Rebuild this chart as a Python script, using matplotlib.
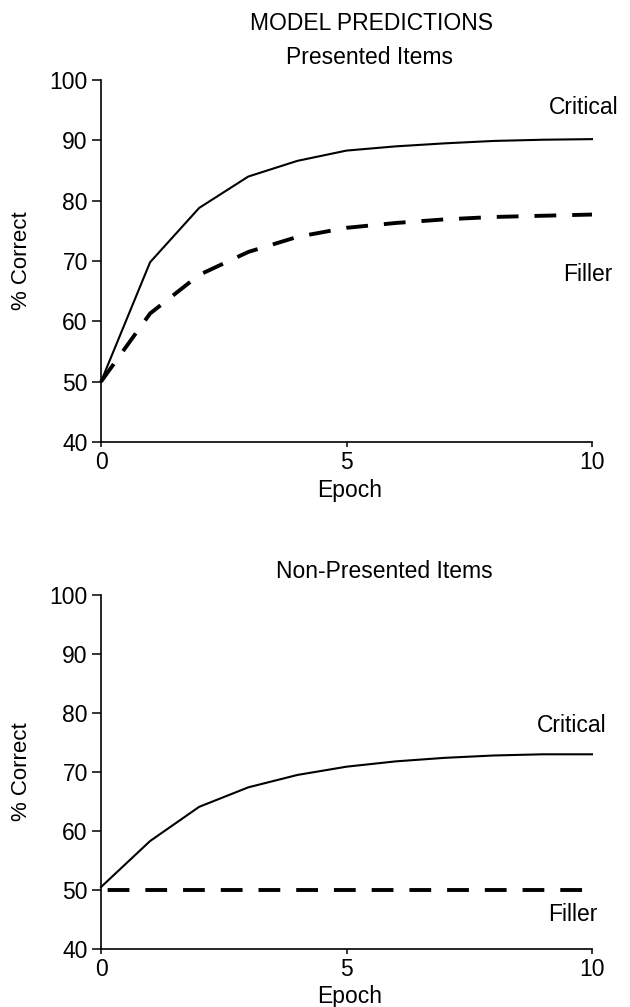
import matplotlib
matplotlib.use("Agg")
import matplotlib.pyplot as plt

# values
epochs = [0, 1, 2, 3, 4, 5, 6, 7, 8, 9, 10]
presented_critical = [50, 69.8, 78.8, 84.0, 86.6, 88.3, 89.0, 89.5, 89.9, 90.1, 90.2]
presented_filler = [50, 61.3, 67.7, 71.5, 74.0, 75.5, 76.3, 76.9, 77.3, 77.5, 77.7]
nonpresented_critical = [50.5, 58.3, 64.1, 67.4, 69.5, 70.9, 71.8, 72.4, 72.8, 73.0, 73.0]
nonpresented_filler = [50, 50, 50, 50, 50, 50, 50, 50, 50, 50, 50]

yticks = [40, 50, 60, 70, 80, 90, 100]
xticks = [0, 5, 10]

plt.rcParams['font.family'] = ['Liberation Sans', 'DejaVu Sans']

fig = plt.figure(figsize=(6.30, 10.07), dpi=100)
W, H = 630.0, 1007.0
FS = 16.5


def make_axes(top_px, bottom_px):
  left, right = 101, 592
  return fig.add_axes([left / W, 1 - bottom_px / H, (right - left) / W, (bottom_px - top_px) / H])


def style_axes(ax, top_px, bottom_px):
  ax.set_xlim(0, 10)
  ax.set_ylim(40, 100)
  ax.set_xticks(xticks)
  ax.set_yticks(yticks)
  for side in ['top', 'right']:
    ax.spines[side].set_visible(False)
  for side in ['left', 'bottom']:
    ax.spines[side].set_linewidth(1.2)
  ax.tick_params(axis='y', direction='out', length=6.5, width=1.1, labelsize=FS, pad=3.0)
  ax.tick_params(axis='x', direction='out', length=3.8, width=1.1, labelsize=FS, pad=3.0)
  h = bottom_px - top_px
  ax.set_xlabel("Epoch", fontsize=FS, va='center')
  ax.xaxis.set_label_coords(0.507, -48.0 / h)
  ax.set_ylabel("% Correct", fontsize=16, va='center')
  ax.yaxis.set_label_coords(-80.0 / 491, 0.5)
  ax.patch.set_visible(False)


# top panel: presented items
top1, bot1 = 80, 442
ax1 = make_axes(top1, bot1)
ax1.plot(epochs, presented_critical, color='black', lw=1.5, clip_on=False)
ax1.plot(epochs, presented_filler, color='black', lw=2.8, dashes=(5.6, 4.1), clip_on=False)
style_axes(ax1, top1, bot1)
ax1.text(9.83, 95.4, "Critical", ha='center', va='center', fontsize=FS)
ax1.text(9.92, 67.7, "Filler", ha='center', va='center', fontsize=FS)

# bottom panel: non-presented items
top2, bot2 = 595, 949
ax2 = make_axes(top2, bot2)
ax2.plot(epochs, nonpresented_critical, color='black', lw=1.5, clip_on=False)
ax2.plot(epochs, nonpresented_filler, color='black', lw=2.8, linestyle=(8.0, (5.6, 4.1)), clip_on=False)
style_axes(ax2, top2, bot2)
ax2.text(9.59, 77.8, "Critical", ha='center', va='center', fontsize=FS)
ax2.text(9.61, 45.8, "Filler", ha='center', va='center', fontsize=FS)

# headings
fig.text(371 / W, 1 - 24 / H, "MODEL PREDICTIONS", ha='center', va='center', fontsize=FS)
fig.text(370 / W, 1 - 58 / H, "Presented Items", ha='center', va='center', fontsize=FS)
fig.text(384 / W, 1 - 572 / H, "Non-Presented Items", ha='center', va='center', fontsize=FS)

fig.savefig("out.png", dpi=100)
